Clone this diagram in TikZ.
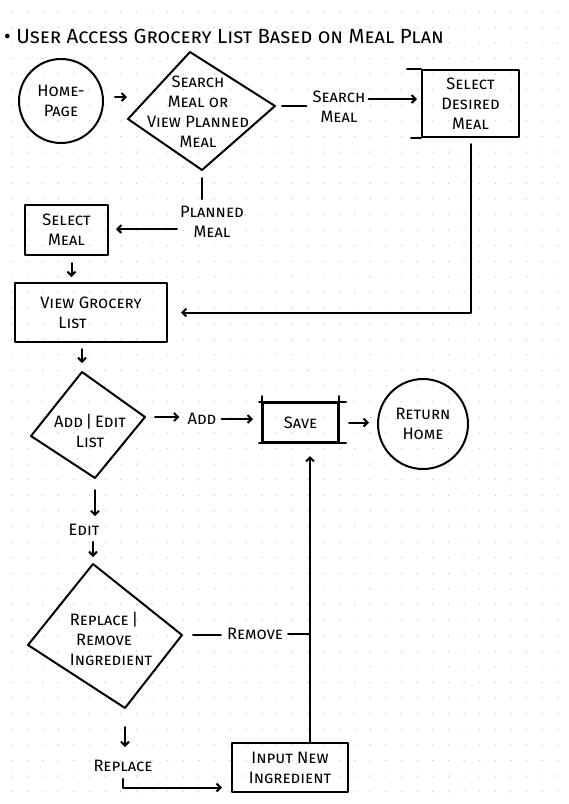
\documentclass[tikz,border=0pt]{standalone}
\usepackage{fontspec}
\setmainfont{Fira Sans}
\usetikzlibrary{arrows.meta}
\begin{document}
\begin{tikzpicture}[x=1pt,y=-1pt,
  ln/.style={line width=2pt, line cap=round, line join=round},
  arr/.style={ln, -{Straight Barb[length=4pt,width=8pt]}},
  lbl/.style={font=\fontsize{16.5}{20}\selectfont\scshape, align=center, inner sep=1pt},
  boxn/.style={ln, draw, rectangle, lbl},
  circn/.style={ln, draw, circle, lbl, inner sep=0pt},
]
\useasboundingbox (0,0) rectangle (569,804);
\fill[white] (0,0) rectangle (569,804);
\foreach \i in {0,...,35}{\foreach \j in {0,...,51}{\fill[black!22] (11.7+15.6*\i, 11.7+15.6*\j) circle (0.7);}}

% title
\node[anchor=west, font=\fontsize{20.5}{24}\selectfont\scshape, inner sep=0pt] (title) at (4,36) {\textbullet\ User Access Grocery List Based on Meal Plan};

% home
\node[circn, minimum size=84pt] (home) at (61,101) {Home-\\Page};

% decision 1
\coordinate (d1t) at (190,52);
\coordinate (d1r) at (275,106);
\coordinate (d1b) at (202,170);
\coordinate (d1l) at (128,119);
\draw[ln] (d1t) -- (d1r) -- (d1b) -- (d1l) -- cycle;
\node[lbl] (d1) at (198,112) {Search\\Meal or\\View Planned\\Meal};
\draw[arr, shorten <=11pt, shorten >=1pt] ([yshift=4pt]home.east) -- ([yshift=4pt]home.east -| d1l);

% search meal
\node[lbl] (sm) at (339,107) {Search\\Meal};
\node[boxn, minimum width=97pt, minimum height=67pt] (sdm) at (470.5,103.5) {Select\\Desired\\Meal};
\draw[ln] (sdm.north west) -- ++(-14,0);
\draw[ln] (sdm.south west) -- ++(-10,0);
\draw[ln, shorten <=7pt, shorten >=5pt] (d1r) -- (d1r -| sm.west);
\draw[arr, shorten <=2pt, shorten >=4pt] ([yshift=8pt]sm.east) -- ([yshift=8pt]sm.east -| sdm.west);

% planned meal
\node[lbl] (pm) at (212,222) {Planned\\Meal};
\node[boxn, minimum width=83pt, minimum height=50pt] (sml) at (66.5,230) {Select\\Meal};
\draw[ln, shorten <=8pt, shorten >=6pt] (d1b) -- (d1b |- pm.north);
\draw[arr, shorten <=2pt, shorten >=7pt] ([yshift=-7pt]pm.west) -- ([yshift=-7pt]pm.west -| sml.east);

% view grocery list
\node[boxn, minimum width=152pt, minimum height=59pt, align=left] (vgl) at (91,312.5) {View Grocery\\\hspace*{18pt}List};
\draw[arr, shorten <=7pt, shorten >=5pt] ([xshift=5pt]sml.south) -- ([xshift=5pt]sml.south |- vgl.north);
\draw[arr, shorten <=6pt, shorten >=13pt] (sdm.south) |- (vgl.east);

% decision 2
\coordinate (d2t) at (82,372);
\coordinate (d2r) at (145,417);
\coordinate (d2b) at (95,478);
\coordinate (d2l) at (31,436);
\draw[ln] (d2t) -- (d2r) -- (d2b) -- (d2l) -- cycle;
\node[lbl] (d2) at (90,431) {Add\,|\,Edit\\List};
\draw[arr, shorten <=6pt, shorten >=9pt] (vgl.south -| d2t) -- (d2t);

% add / save / return home
\node[lbl] (add) at (202,419) {Add};
\node[boxn, minimum width=75pt, minimum height=39pt] (save) at (300.5,422.5) {Save};
\draw[ln] ([xshift=-3pt]save.north west) -- ([xshift=7pt]save.north east);
\draw[ln] ([xshift=-3pt]save.south west) -- ([xshift=7pt]save.south east);
\draw[ln] ([yshift=6pt]save.north west) -- (save.south west);
\draw[ln] ([yshift=6pt]save.north east) -- (save.south east);
\node[circn, minimum size=90pt] (rh) at (423,424) {Return\\Home};
\draw[arr, shorten <=10pt, shorten >=7pt] (d2r) -- (d2r -| add.west);
\draw[arr, shorten <=4pt, shorten >=9pt] (add.east) -- (add.east -| save.west);
\draw[arr, shorten <=10pt, shorten >=8pt] (save.east) -- (save.east -| rh.west);

% edit
\node[lbl] (edit) at (84,530) {Edit};
\draw[arr, shorten <=12pt, shorten >=7pt] (d2b) -- (d2b |- edit.north);

% decision 3
\coordinate (d3t) at (93,564);
\coordinate (d3r) at (182,635);
\coordinate (d3b) at (125,708);
\coordinate (d3l) at (28,645);
\draw[ln] (d3t) -- (d3r) -- (d3b) -- (d3l) -- cycle;
\node[lbl] (d3) at (104,639) {Replace\,|\\Remove\\\hspace*{14pt}Ingredient};
\draw[arr, shorten <=5pt, shorten >=7pt] (edit.south -| d3t) -- (d3t);

% remove
\node[lbl] (rem) at (255,634) {Remove};
\node[boxn, minimum width=116pt, minimum height=49pt] (ini) at (290,767.5) {Input New\\Ingredient};
\draw[ln, shorten <=11pt, shorten >=5pt] (d3r) -- (d3r -| rem.west);
\draw[ln, shorten <=4pt] (rem.east) -- (rem.east -| 310,0);
\draw[arr, shorten >=13pt] (ini.north -| 310,0) -- (save.south -| 310,0);

% replace
\node[lbl] (rep) at (123,766) {Replace};
\draw[arr, shorten <=19pt, shorten >=12pt] (d3b) -- (d3b |- rep.north);
\draw[arr, shorten >=9pt] ([yshift=-6pt]rep.south) |- ([yshift=-20pt]ini.west);
\end{tikzpicture}
\end{document}
